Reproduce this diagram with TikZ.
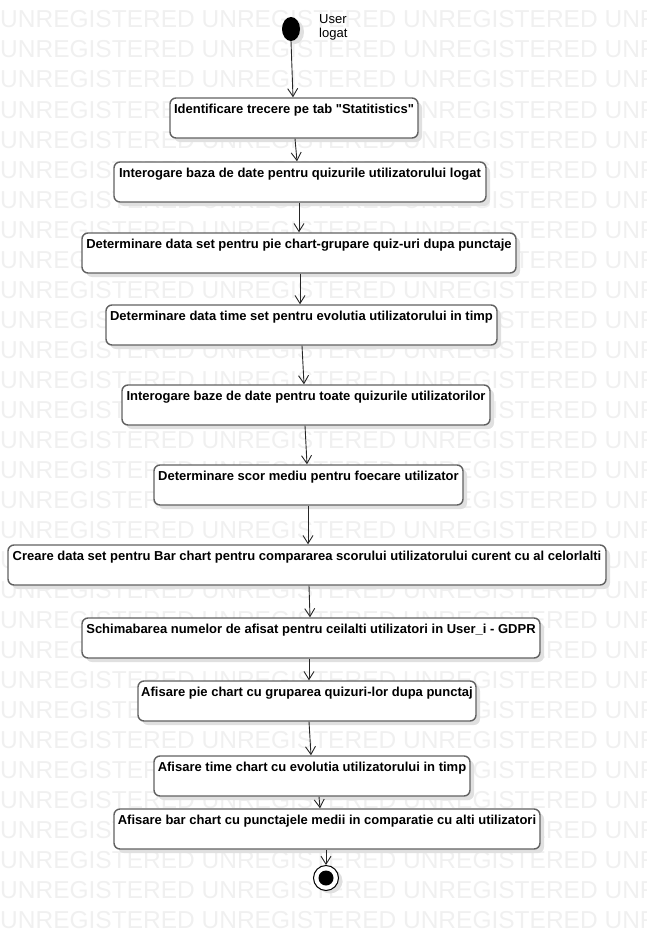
\documentclass[tikz,border=0pt]{standalone}
\usepackage{fontspec}
\setmainfont{Liberation Sans}[Ligatures=TeXOff]
\usetikzlibrary{arrows.meta,shadows,shapes.geometric}
\begin{document}
\begin{tikzpicture}[x=1pt,y=-1pt,
  wm/.style={font=\fontsize{24.5}{28}\selectfont, text=black!6, inner sep=0pt, anchor=base west},
  box/.style={draw=black!62, line width=1.4pt, rounded corners=6pt, fill=white, minimum height=40pt, inner sep=0pt,
    drop shadow={shadow xshift=4pt, shadow yshift=-4pt, fill=black!12, opacity=1}},
  lbl/.style={font=\fontsize{13}{15}\selectfont\bfseries, inner sep=0pt, anchor=base},
  arr/.style={draw=black!85, line width=0.9pt, -{Straight Barb[length=8pt,width=10pt]}}]
\useasboundingbox (0,0) rectangle (647,931);
\begin{scope}
\clip (0,0) rectangle (647,931);
\foreach \k in {0,...,30} {
  \node[wm] (wm\k) at (0,{28+30*\k}) {UNREGISTERED UNREGISTERED UNREGISTERED UNREGISTERED};
}
\end{scope}
% initial and final
\node[ellipse, fill=black, minimum width=18pt, minimum height=24pt, inner sep=0pt,
  drop shadow={shadow xshift=4pt, shadow yshift=-3pt, fill=black!12, opacity=1}] (init) at (291,29) {};
\node[font=\fontsize{13}{14}\selectfont, align=left, anchor=north west, inner sep=0pt] (ulbl) at (319,14) {User\\logat};
\node[circle, draw=black, line width=1pt, fill=white, minimum size=25pt, inner sep=0pt,
  drop shadow={shadow xshift=4pt, shadow yshift=-3pt, fill=black!12, opacity=1}] (fin) at (326,878) {};
\node[circle, fill=black, minimum size=15pt, inner sep=0pt] (fincore) at (fin) {};
% boxes
\node[box, minimum width=248pt] (b1) at (294,118) {};
\node[box, minimum width=372pt] (b2) at (300,182) {};
\node[box, minimum width=434pt] (b3) at (299,253) {};
\node[box, minimum width=391pt] (b4) at (301.5,325) {};
\node[box, minimum width=368pt] (b5) at (306,405) {};
\node[box, minimum width=309pt] (b6) at (308.5,485) {};
\node[box, minimum width=598pt] (b7) at (307,565) {};
\node[box, minimum width=458pt] (b8) at (311,638) {};
\node[box, minimum width=338pt] (b9) at (307,701) {};
\node[box, minimum width=316pt] (b10) at (312,776) {};
\node[box, minimum width=426pt] (b11) at (327,829) {};
% texts
\node[lbl] (t1) at ([yshift=-16.5pt]b1.north) {Identificare trecere pe tab "Statitistics"};
\node[lbl] (t2) at ([yshift=-16.5pt]b2.north) {Interogare baza de date pentru quizurile utilizatorului logat};
\node[lbl] (t3) at ([yshift=-16.5pt]b3.north) {Determinare data set pentru pie chart-grupare quiz-uri dupa punctaje};
\node[lbl] (t4) at ([yshift=-16.5pt]b4.north) {Determinare data time set pentru evolutia utilizatorului in timp};
\node[lbl] (t5) at ([yshift=-16.5pt]b5.north) {Interogare baze de date pentru toate quizurile utilizatorilor};
\node[lbl] (t6) at ([yshift=-16.5pt]b6.north) {Determinare scor mediu pentru foecare utilizator};
\node[lbl] (t7) at ([yshift=-16.5pt]b7.north) {Creare data set pentru Bar chart pentru compararea scorului utilizatorului curent cu al celorlalti};
\node[lbl] (t8) at ([yshift=-16.5pt]b8.north) {Schimabarea numelor de afisat pentru ceilalti utilizatori in User\_i - GDPR};
\node[lbl] (t9) at ([yshift=-16.5pt]b9.north) {Afisare pie chart cu gruparea quizuri-lor dupa punctaj};
\node[lbl] (t10) at ([yshift=-16.5pt]b10.north) {Afisare time chart cu evolutia utilizatorului in timp};
\node[lbl] (t11) at ([yshift=-16.5pt]b11.north) {Afisare bar chart cu punctajele medii in comparatie cu alti utilizatori};
% connectors
\draw[arr] (init.south) -- ([xshift=-1pt]b1.north);
\draw[arr] ([xshift=1pt]b1.south) -- ([xshift=-3pt]b2.north);
\draw[arr] ([xshift=-1pt]b2.south) -- (b3.north);
\draw[arr] ([xshift=1pt]b3.south) -- ([xshift=-1.5pt]b4.north);
\draw[arr] ([xshift=0.5pt]b4.south) -- ([xshift=-2pt]b5.north);
\draw[arr] ([xshift=-1pt]b5.south) -- ([xshift=-1.5pt]b6.north);
\draw[arr] ([xshift=-0.5pt]b6.south) -- ([xshift=1pt]b7.north);
\draw[arr] ([xshift=2pt]b7.south) -- ([xshift=-1pt]b8.north);
\draw[arr] ([xshift=-2pt]b8.south) -- ([xshift=2pt]b9.north);
\draw[arr] ([xshift=2pt]b9.south) -- ([xshift=-1pt]b10.north);
\draw[arr] ([xshift=7pt]b10.south) -- ([xshift=-7pt]b11.north);
\draw[arr] ([xshift=-1pt]b11.south) -- (fin.north);
\end{tikzpicture}
\end{document}
